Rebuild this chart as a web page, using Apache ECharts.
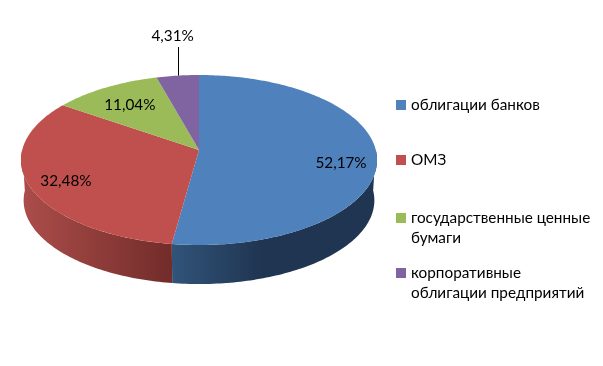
<!DOCTYPE html>
<html>
<head>
<meta charset="utf-8">
<style>
  html, body { margin: 0; padding: 0; background: #fff; }
  #chart { width: 603px; height: 366px; }
</style>
<script src="https://cdn.jsdelivr.net/npm/echarts@6/dist/echarts.min.js"></script>
</head>
<body>
<div id="chart"></div>
<script>
const categories = [
  "облигации банков",
  "ОМЗ",
  "государственные ценные\nбумаги",
  "корпоративные\nоблигации предприятий"
];
const shares = [52.17, 32.48, 11.04, 4.31];
const colors = ["#4F81BD", "#C0504D", "#9BBB59", "#8064A2"];

// how far out along the slice each label sits, 1 = on the rim
const labelReach = [0.8, 0.78, 0.7, 1];
const labelNudge = [[0, 8], [-2, 4], [-2, 0], [-5, 0]];
const legendTops = [95, 150, 188, 243];
const FONT = "Lato, Carlito, sans-serif";
const FONT_SIZE = 15.3;

// tilted disc with a little perspective, the near edge comes out bigger
const CX = 199, CY = 150, RX = 176.8, RY = 83.8, PERSP = 0.1176;
const DEPTH = 40.5, BOTTOM_SCALE = 0.985;

const total = shares.reduce((a, b) => a + b, 0);
const toAngle = v => (v / total) * Math.PI * 2;

const starts = [];
shares.reduce((sum, v, i) => {
  starts[i] = sum;
  return sum + toAngle(v);
}, 0);

function project(angle, r, scale, dy) {
  const u = Math.sin(angle) * r;
  const v = -Math.cos(angle) * r;
  const d = 1 - PERSP * v;
  return [CX + (RX * scale * u) / d, CY + dy + (RY * scale * v) / d];
}

function arc(from, to, scale, dy) {
  const steps = Math.max(2, Math.ceil(((to - from) * 180) / Math.PI));
  const pts = [];
  for (let i = 0; i <= steps; i++) {
    pts.push(project(from + ((to - from) * i) / steps, 1, scale, dy));
  }
  return pts;
}

function sideFill(i) {
  if (i === 0) {
    return {
      type: "linear", global: true, x: 172, y: 0, x2: 373, y2: 0,
      colorStops: [
        { offset: 0, color: "#315479" },
        { offset: 0.45, color: "#1F3551" },
        { offset: 1, color: "#1F3551" }
      ]
    };
  }
  return {
    type: "linear", global: true, x: 24, y: 0, x2: 172, y2: 0,
    colorStops: [
      { offset: 0, color: "#AB4D4A" },
      { offset: 1, color: "#722C2A" }
    ]
  };
}

function renderSide(params) {
  const i = params.dataIndex;
  const from = Math.max(starts[i], Math.PI / 2);
  const to = Math.min(starts[i] + toAngle(shares[i]), (Math.PI * 3) / 2);
  if (from >= to) return null;
  const top = arc(from, to, 1, 0);
  const bottom = arc(from, to, BOTTOM_SCALE, DEPTH).reverse();
  return {
    type: "polygon",
    shape: { points: top.concat(bottom) },
    style: { fill: sideFill(i) }
  };
}

function renderTop(i) {
  return function () {
    const from = starts[i];
    const to = from + toAngle(shares[i]);
    const mid = (from + to) / 2;
    const text = shares[i].toFixed(2).replace(".", ",") + "%";
    const anchor = project(mid, labelReach[i], 1, 0);
    const font = FONT_SIZE + "px " + FONT;
    const children = [{
      type: "polygon",
      shape: { points: [[CX, CY]].concat(arc(from, to, 1, 0)) },
      style: { fill: colors[i] }
    }];
    if (labelReach[i] >= 1) {
      // small slice, label goes outside on a leader line
      const lineX = Math.round(anchor[0]) + 0.5;
      children.push({
        type: "line",
        shape: { x1: lineX, y1: anchor[1], x2: lineX, y2: 47 },
        style: { stroke: "#000", lineWidth: 1 }
      });
      children.push({
        type: "text",
        style: { x: anchor[0] + labelNudge[i][0], y: 36, text, fill: "#000", font, align: "center", verticalAlign: "middle" }
      });
    } else {
      children.push({
        type: "text",
        style: { x: anchor[0] + labelNudge[i][0], y: anchor[1] + labelNudge[i][1], text, fill: "#000", font, align: "center", verticalAlign: "middle" }
      });
    }
    return { type: "group", children };
  };
}

const sideSeries = {
  type: "custom",
  coordinateSystem: "none",
  silent: true,
  z: 1,
  renderItem: renderSide,
  data: shares
};

const topSeries = categories.map((name, i) => ({
  type: "custom",
  name,
  coordinateSystem: "none",
  silent: true,
  z: 2,
  itemStyle: { color: colors[i] },
  renderItem: renderTop(i),
  data: [shares[i]]
}));

// the legend centres its icon on the text block, a blank first line
// keeps the icon level with the first real line
const legends = categories.map((name, i) => ({
  data: [name],
  left: 396,
  top: legendTops[i],
  padding: 0,
  itemWidth: 10,
  itemHeight: 10,
  icon: "rect",
  selectedMode: false,
  formatter: n => (n.indexOf("\n") >= 0 ? "\n" + n : n),
  textStyle: {
    fontFamily: FONT,
    fontSize: FONT_SIZE,
    color: "#000",
    lineHeight: 20
  }
}));

const chart = echarts.init(document.getElementById("chart"));
chart.setOption({
  animation: false,
  backgroundColor: "#fff",
  legend: legends,
  series: [sideSeries].concat(topSeries)
});
window.addEventListener("resize", () => chart.resize());
</script>
</body>
</html>
